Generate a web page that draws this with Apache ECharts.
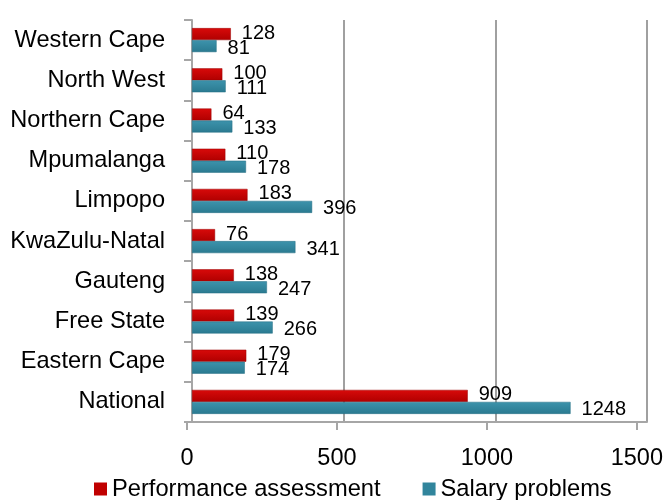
<!DOCTYPE html>
<html>
<head>
<meta charset="utf-8">
<script src="https://cdn.jsdelivr.net/npm/echarts@6/dist/echarts.min.js"></script>
<style>html,body{margin:0;padding:0;background:#fff}#c{width:666px;height:500px}</style>
</head>
<body>
<div id="c"></div>
<script>
var categories = ['National','Eastern Cape','Free State','Gauteng','KwaZulu-Natal','Limpopo','Mpumalanga','Northern Cape','North West','Western Cape'];
var performance = [909,179,139,138,76,183,110,64,100,128];
var salary = [1248,174,266,247,341,396,178,133,111,81];
var xTicks = [0,500,1000,1500];

var chart = echarts.init(document.getElementById('c'));
var font = 'Liberation Sans, Arial, sans-serif';
var grey = '#a6a6a6';
chart.setOption({
  animation: false,
  color: ['#c00000', '#31859c'],
  textStyle: {fontFamily: font},
  grid: [
    {left: 192, right: 19, top: 20, bottom: 78},
    {left: 187, right: 29, top: 20, bottom: 78}
  ],
  legend: {
    bottom: -6, left: 89,
    itemWidth: 13, itemHeight: 13, itemGap: 42,
    icon: 'rect',
    itemStyle: {borderWidth: 0},
    textStyle: {fontSize: 23.7, color: '#000', fontFamily: font},
    data: [
      {name: 'Performance assessment', itemStyle: {color: '#c00000', borderWidth: 0}},
      {name: 'Salary problems', itemStyle: {color: '#31859c', borderWidth: 0}}
    ]
  },
  xAxis: [
    {
      gridIndex: 0, type: 'value', min: xTicks[0], max: xTicks[xTicks.length-1], interval: 500,
      axisLine: {show: true, lineStyle: {color: grey, width: 2}},
      axisTick: {show: false},
      axisLabel: {show: false},
      splitLine: {show: true, lineStyle: {color: '#a0a0a0', width: 2}}
    },
    {
      gridIndex: 1, type: 'value', min: xTicks[0], max: xTicks[xTicks.length-1], interval: 500,
      axisLine: {show: false},
      axisTick: {show: true, length: 8, lineStyle: {color: grey, width: 2}},
      axisLabel: {fontSize: 23.5, color: '#000', margin: 25, fontFamily: font,
        formatter: function (v) { return String(v); }},
      splitLine: {show: false}
    }
  ],
  yAxis: [
    {
      gridIndex: 0, type: 'category', data: categories,
      axisLine: {show: true, lineStyle: {color: grey, width: 2}},
      axisTick: {show: true, length: 8, lineStyle: {color: grey, width: 2}},
      axisLabel: {fontSize: 23.6, color: '#000', margin: 27, fontFamily: font, padding: [4,0,0,0]}
    },
    {
      gridIndex: 1, type: 'category', data: categories, show: false
    }
  ],
  series: [
    {
      name: 'Performance assessment', type: 'bar', data: performance,
      xAxisIndex: 0, yAxisIndex: 0,
      barWidth: 12, barGap: '0%',
      itemStyle: {color: new echarts.graphic.LinearGradient(0,0,0,1,[{offset:0,color:'#d80a0a'},{offset:1,color:'#b00000'}]), borderColor: '#9a0000', borderWidth: 0.5},
      label: {show: true, position: 'right', distance: 11, offset: [0,-1], fontSize: 20, color: '#000', fontFamily: font}
    },
    {
      name: 'Salary problems', type: 'bar', data: salary,
      xAxisIndex: 0, yAxisIndex: 0,
      barWidth: 12,
      itemStyle: {color: new echarts.graphic.LinearGradient(0,0,0,1,[{offset:0,color:'#3d93ac'},{offset:1,color:'#2a7a90'}]), borderColor: '#236c80', borderWidth: 0.5},
      label: {show: true, position: 'right', distance: 11, offset: [0,2], fontSize: 20, color: '#000', fontFamily: font}
    }
  ]
});
</script>
</body>
</html>
